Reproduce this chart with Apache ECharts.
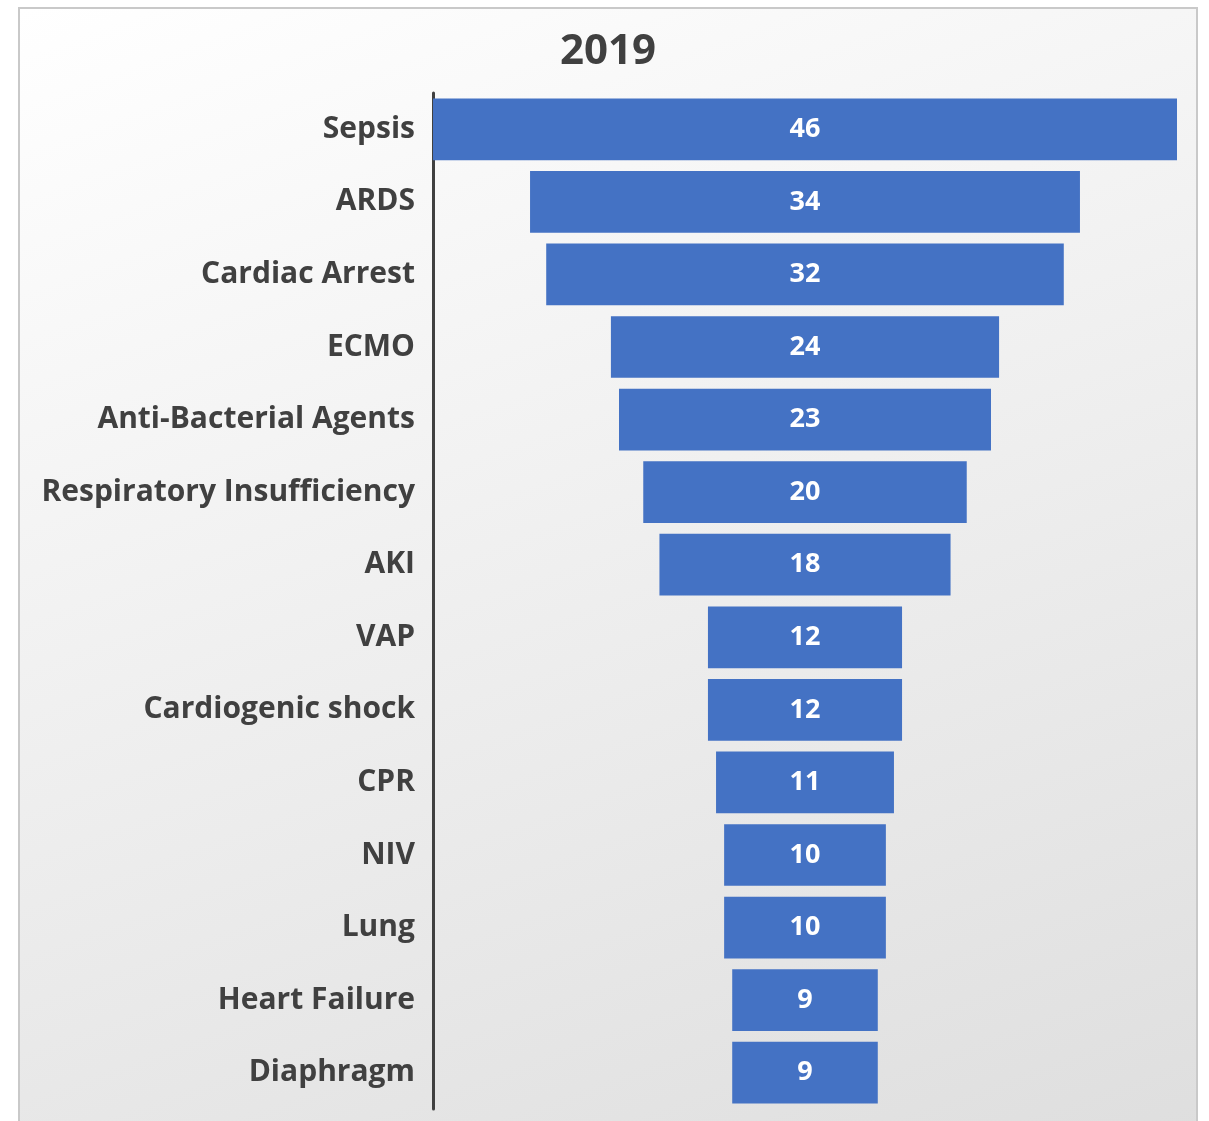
<!DOCTYPE html>
<html>
<head>
<meta charset="utf-8">
<script src="https://cdn.jsdelivr.net/npm/echarts@6/dist/echarts.min.js"></script>
<style>
  html, body { margin: 0; padding: 0; background: #fff; overflow: hidden; }
  .frame {
    position: absolute; left: 18px; top: 7px; width: 1176px; height: 1140px;
    border: 2px solid #c9c9c9;
    background: linear-gradient(160deg, #ffffff 0%, #f0f0f0 45%, #dedede 100%);
  }
  #chart { position: absolute; left: 0; top: 0; width: 1209px; height: 1121px; }
</style>
</head>
<body>
<div class="frame"></div>
<div id="chart"></div>
<script>
// 2019 counts per topic
const categories = ['Sepsis', 'ARDS', 'Cardiac Arrest', 'ECMO', 'Anti-Bacterial Agents',
  'Respiratory Insufficiency', 'AKI', 'VAP', 'Cardiogenic shock', 'CPR', 'NIV', 'Lung',
  'Heart Failure', 'Diaphragm']
const values = [46, 34, 32, 24, 23, 20, 18, 12, 12, 11, 10, 10, 9, 9]

const maxVal = Math.max(...values)
// transparent spacer so each bar sits centred (funnel look)
const spacer = values.map(v => (maxVal - v) / 2)

const font = '"Open Sans", "Noto Sans", sans-serif'

let myChart = echarts.init(document.getElementById('chart'))
myChart.setOption({
  animation: false,
  title: {
    text: '2019',
    left: 555,
    top: 26,
    textStyle: { fontFamily: font, fontSize: 42, fontWeight: 'bold', color: '#404040' }
  },
  grid: { left: 433, right: 32, top: 93, bottom: 12, containLabel: false },
  xAxis: {
    type: 'value',
    min: 0,
    max: maxVal,
    show: false
  },
  yAxis: {
    type: 'category',
    inverse: true,
    data: categories,
    axisLine: { show: true, lineStyle: { color: '#404040', width: 3 } },
    axisTick: { show: false },
    axisLabel: {
      fontFamily: font,
      fontSize: 30,
      fontWeight: 'bold',
      color: '#404040',
      margin: 18,
      padding: [4, 0, 0, 0]
    }
  },
  series: [
    {
      type: 'bar',
      stack: 'funnel',
      data: spacer,
      itemStyle: { color: 'transparent' },
      silent: true
    },
    {
      type: 'bar',
      stack: 'funnel',
      data: values,
      barCategoryGap: '15%',
      itemStyle: { color: '#4472C4' },
      label: {
        show: true,
        position: 'inside',
        fontFamily: font,
        fontSize: 27,
        fontWeight: 'bold',
        color: '#ffffff'
      }
    }
  ]
})
</script>
</body>
</html>
